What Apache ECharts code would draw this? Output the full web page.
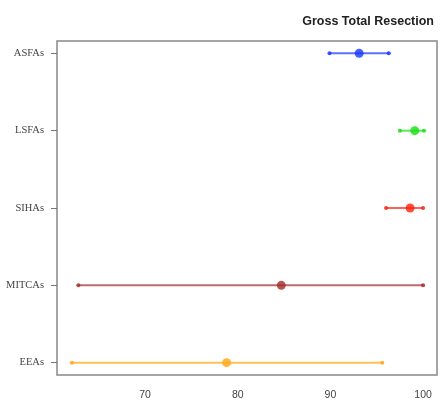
<!DOCTYPE html>
<html><head><meta charset="utf-8">
<script src="https://cdn.jsdelivr.net/npm/echarts@6/dist/echarts.min.js"></script>
<style>html,body{margin:0;padding:0;background:#fff}#c{width:443px;height:406px}</style>
</head><body><div id="c"></div>
<script>
var groups = ['ASFAs', 'LSFAs', 'SIHAs', 'MITCAs', 'EEAs'];
var lows = [89.9, 97.5, 96.0, 62.8, 62.1];
var means = [93.1, 99.1, 98.6, 84.7, 78.8];
var highs = [96.3, 100.1, 100.0, 100.0, 95.6];
var colors = ['#1535ff', '#12e012', '#ff2010', '#a52a2a', '#ffa510'];
var xTicks = [70, 80, 90, 100];
var title = 'Gross Total Resection';

var yPos = groups.map(function (g, i) { return groups.length - i; });

var series = [];
groups.forEach(function (g, i) {
  series.push({
    type: 'line', data: [[lows[i], yPos[i]], [highs[i], yPos[i]]],
    symbol: 'circle', symbolSize: 4, showSymbol: true,
    lineStyle: { color: colors[i], width: 2, opacity: 0.7 },
    itemStyle: { color: colors[i], opacity: 0.85 },
    silent: true, animation: false, z: 2
  });
  series.push({
    type: 'scatter', data: [[means[i], yPos[i]]],
    symbol: 'circle', symbolSize: 9,
    itemStyle: { color: colors[i] }, silent: true, animation: false, z: 3
  });
});

var chart = echarts.init(document.getElementById('c'), null, { renderer: 'canvas' });
chart.setOption({
  backgroundColor: '#fff',
  title: {
    text: title, right: 4, top: 10,
    textStyle: { fontFamily: 'Liberation Sans, Arial, sans-serif', fontWeight: 'bold', fontSize: 12.5, color: '#222' }
  },
  grid: { left: 57, right: 6, top: 41, bottom: 31, show: true, borderColor: '#888', borderWidth: 1.5, backgroundColor: 'transparent' },
  xAxis: {
    type: 'value', min: 60.5, max: 101.5,
    splitLine: { show: false },
    axisLine: { show: false },
    axisTick: { show: false, customValues: xTicks },
    axisLabel: { customValues: xTicks, color: '#444', fontSize: 10.5, fontFamily: 'Liberation Sans, Arial, sans-serif', margin: 15 }
  },
  yAxis: {
    type: 'value', min: 0.84, max: 5.16,
    splitLine: { show: false },
    axisLine: { show: false },
    axisTick: { show: true, customValues: yPos, length: 6, inside: false, lineStyle: { color: '#777', width: 1 } },
    axisLabel: {
      customValues: yPos, color: '#444', fontSize: 10.5, margin: 13,
      fontFamily: 'Liberation Serif, Times New Roman, serif',
      formatter: function (v) { var idx = yPos.indexOf(Math.round(v)); return idx >= 0 ? groups[idx] : ''; }
    }
  },
  series: series
});
</script></body></html>
